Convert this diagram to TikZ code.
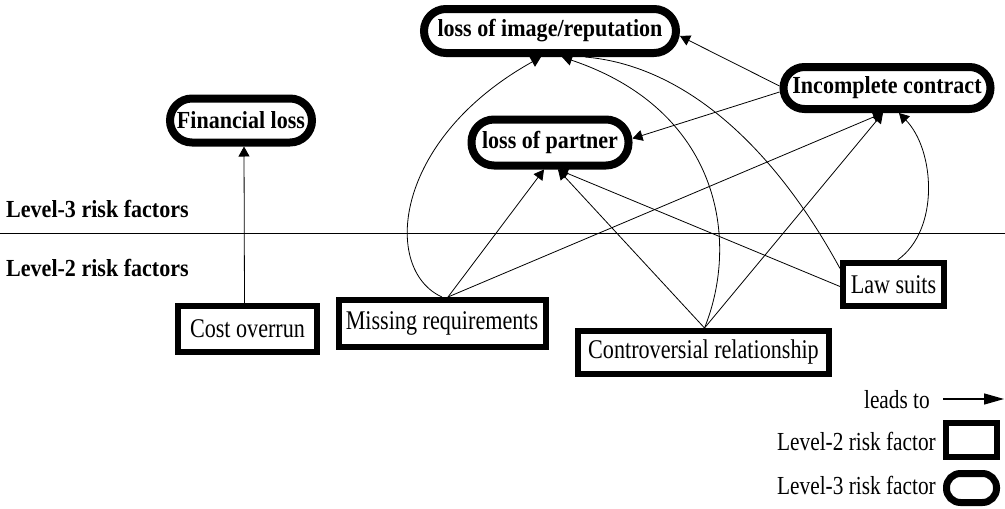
\documentclass[tikz,border=0pt]{standalone}
\usepackage{fontspec}
\setmainfont{Liberation Serif}
\newfontfamily\tallserif[FakeStretch=0.82]{Liberation Serif}
\newfontfamily\tallbold[FakeStretch=0.9]{Liberation Serif}
\usetikzlibrary{arrows.meta}

\tikzset{
  lvthree/.style={draw, line width=8pt, rounded corners=#1, inner sep=0pt,
    font=\tallbold\fontsize{24.5}{28}\selectfont\bfseries},
  lvthree/.default=21pt,
  lvtwo/.style={draw, line width=6pt, inner sep=0pt,
    font=\tallserif\fontsize{27}{30}\selectfont},
  link/.style={line width=0.8pt, -{Triangle[length=10pt,width=11pt]}},
  plainlink/.style={line width=0.8pt},
  levellabel/.style={anchor=west, inner sep=0pt, font=\tallbold\fontsize{24.5}{28}\selectfont\bfseries},
  legendtext/.style={anchor=east, inner sep=0pt, font=\tallserif\fontsize{26}{29}\selectfont},
}

\begin{document}
\begin{tikzpicture}[x=1pt,y=-1pt]
\useasboundingbox (0,0) rectangle (1005,509);

% separator between the two levels
\coordinate (sepL) at (0,233);
\coordinate (sepR) at (1005,233);
\draw[line width=0.7pt] (sepL) -- (sepR);
\node[levellabel] (lab3) at (6,209) {Level-3 risk factors};
\node[levellabel] (lab2) at (6,268) {Level-2 risk factors};

% level-3 risk factors
\node[lvthree=22pt, minimum width=252pt, minimum height=44pt] (img) at (550,31) {loss of image/reputation};
\node[lvthree=21pt, minimum width=207pt, minimum height=42pt] (inc) at (887,88) {Incomplete contract};
\node[lvthree=22pt, minimum width=142pt, minimum height=44pt] (fin) at (241,120.5) {Financial loss};
\node[lvthree=22.5pt, minimum width=157pt, minimum height=46pt] (par) at (550,142.5) {loss of partner};

% level-2 risk factors
\node[lvtwo, minimum width=139pt, minimum height=46pt] (cost) at (247.5,329) {Cost overrun};
\node[lvtwo, minimum width=207pt, minimum height=47pt] (mis) at (442,323.5) {Missing requirements};
\node[lvtwo, minimum width=251pt, minimum height=43pt] (con) at (703.5,352.5) {Controversial relationship};
\node[lvtwo, minimum width=101pt, minimum height=43pt] (law) at (893.5,284.5) {Law suits};

% cause-effect links
\draw[link] ([xshift=-3pt]cost.north) -- ([xshift=3pt]fin.south);

\draw[link] (mis.north) .. controls (382,270) and (392,140) .. ([xshift=-9pt]img.south);
\draw[link] ([xshift=6pt]mis.north) -- ([xshift=-6pt]par.south);
\draw[link] ([xshift=6pt]mis.north) -- ([xshift=-4pt]inc.south);

\draw[link] ([xshift=1pt]con.north) -- ([xshift=8pt]par.south);
\draw[link] ([xshift=1pt]con.north) -- ([xshift=-4pt]inc.south);
\draw[link] ([xshift=1pt]con.north) .. controls (740,240) and (720,110) .. ([xshift=12pt]img.south);

\draw[link] ([yshift=-2pt]law.west) -- ([xshift=8pt]par.south);
\draw[plainlink] ([xshift=35pt]img.south) .. controls (680,65) and (770,140) .. ([yshift=16pt]law.west);
\draw[link] ([xshift=4pt]law.north) .. controls (940,230) and (935,150) .. ([xshift=12pt]inc.south);

\draw[link] ([yshift=2pt]inc.west) -- ([yshift=-5pt]img.east);
\draw[link] ([yshift=-4pt]inc.west) -- ([yshift=4pt]par.east);

% legend
\node[legendtext] (leadsto) at (930,400) {leads to};
\coordinate (arrA) at (943,399);
\coordinate (arrB) at (1004,399);
\draw[line width=1.3pt, -{Triangle[length=20pt,width=11pt]}] (arrA) -- (arrB);
\node[legendtext] (key2) at (936,441) {Level-2 risk factor};
\node[lvtwo, minimum width=51pt, minimum height=34pt] (box2) at (971.5,440) {};
\node[legendtext] (key3) at (936,485) {Level-3 risk factor};
\node[lvthree=14pt, line width=7pt, minimum width=50pt, minimum height=29pt] (box3) at (971.5,488) {};
\end{tikzpicture}
\end{document}
